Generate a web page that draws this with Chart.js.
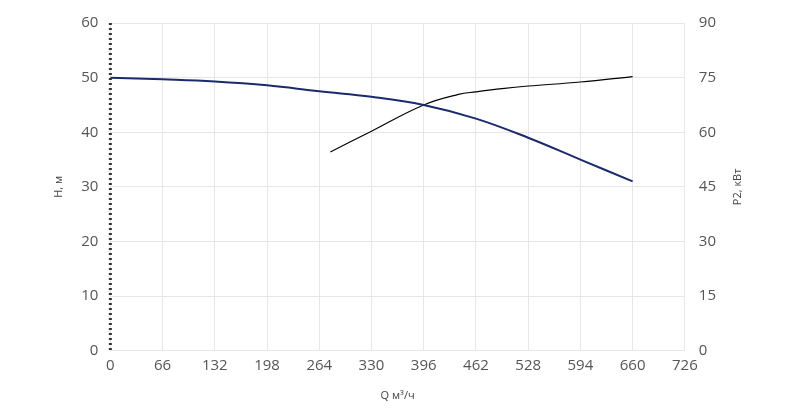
<!DOCTYPE html>
<html lang="ru">
<head>
<meta charset="UTF-8">
<title>Pump curve</title>
<script src="https://cdn.jsdelivr.net/npm/chart.js"></script>
<style>
  body { margin: 0; background: #fff; }
  #wrap { width: 800px; height: 408px; }
</style>
</head>
<body>
<div id="wrap"><canvas id="myChart"></canvas></div>
<script>
// Q, m3/h and readings
const headQ = [0, 66, 132, 198, 264, 330, 396, 462, 528, 594, 660];
const headH = [50, 49.7, 49.3, 48.6, 47.5, 46.5, 45, 42.5, 39, 35, 31];
const powerQ = [278, 330, 396, 440, 462, 495, 528, 594, 660];
const powerP = [54.6, 60.3, 67.5, 70.4, 71.1, 72, 72.7, 73.8, 75.3];
const xTicks = [0, 66, 132, 198, 264, 330, 396, 462, 528, 594, 660, 726];

const ctx = document.getElementById('myChart').getContext('2d');
const tickFont = { family: 'Open Sans', size: 15 };
const tickColor = '#555';

// dashed left axis line and the right axis title read bottom-to-top
const extras = {
  id: 'extras',
  afterDraw(chart) {
    const c = chart.ctx, a = chart.chartArea;
    c.save();
    c.strokeStyle = '#333';
    c.lineWidth = 3;
    c.setLineDash([2, 3]);
    c.beginPath();
    c.moveTo(a.left, a.top);
    c.lineTo(a.left, a.bottom);
    c.stroke();
    c.setLineDash([]);
    c.translate(738, (a.top + a.bottom) / 2);
    c.rotate(-Math.PI / 2);
    c.font = '11px "Open Sans"';
    c.fillStyle = '#444';
    c.textAlign = 'center';
    c.textBaseline = 'middle';
    c.fillText('P2, кВт', 0, 0);
    c.restore();
  }
};

new Chart(ctx, {
  type: 'line',
  data: {
    datasets: [
      {
        label: 'H',
        data: headQ.map((q, i) => ({ x: q, y: headH[i] })),
        borderColor: '#1a2a6c',
        borderWidth: 2,
        pointRadius: 0,
        tension: 0.4,
        yAxisID: 'y'
      },
      {
        label: 'P2',
        data: powerQ.map((q, i) => ({ x: q, y: powerP[i] })),
        borderColor: '#000',
        borderWidth: 1.2,
        pointRadius: 0,
        tension: 0.4,
        yAxisID: 'y2'
      }
    ]
  },
  options: {
    responsive: true,
    maintainAspectRatio: false,
    animation: false,
    layout: { padding: { left: 48, right: 70, top: 12, bottom: 2 } },
    plugins: { legend: { display: false }, tooltip: { enabled: false } },
    scales: {
      x: {
        type: 'linear',
        min: 0, max: 726,
        afterBuildTicks: axis => { axis.ticks = xTicks.map(v => ({ value: v })); },
        grid: { color: '#e6e6e6', drawTicks: false },
        border: { display: false },
        ticks: { font: tickFont, color: tickColor, padding: 6 },
        title: { display: true, text: 'Q м³/ч', font: { family: 'Open Sans', size: 11 }, color: '#444', padding: { top: 8 } }
      },
      y: {
        position: 'left',
        min: 0, max: 60,
        ticks: { stepSize: 10, font: tickFont, color: tickColor, padding: 12 },
        grid: { color: '#e6e6e6', drawTicks: false },
        border: { display: false },
        title: { display: true, text: 'H, м', font: { family: 'Open Sans', size: 11 }, color: '#444' }
      },
      y2: {
        position: 'right',
        min: 0, max: 90,
        ticks: { stepSize: 15, font: tickFont, color: tickColor, padding: 14 },
        grid: { display: false, drawTicks: false },
        border: { display: false }
      }
    }
  },
  plugins: [extras]
});
</script>
</body>
</html>
